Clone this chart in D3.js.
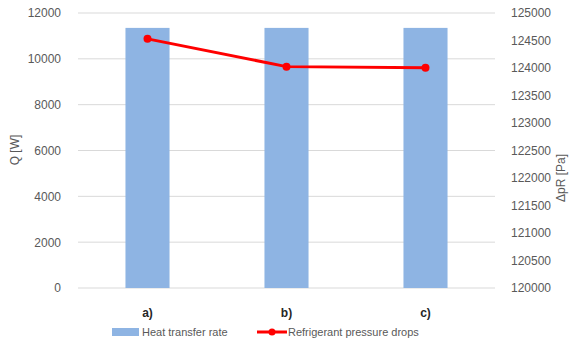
<!DOCTYPE html>
<html><head><meta charset="utf-8">
<script src="https://cdn.jsdelivr.net/npm/d3@7"></script>
<style>body{margin:0;background:#fff;} svg{display:block;font-family:"Liberation Sans",Arial,sans-serif;}</style>
</head><body>
<svg id="c" width="569" height="348"></svg>
<script>
const categories = ["a)", "b)", "c)"];
const heatTransfer = [11350, 11350, 11350];
const pressureDrops = [124530, 124025, 124005];
const leftTicks = [0, 2000, 4000, 6000, 8000, 10000, 12000];
const rightTicks = [120000, 120500, 121000, 121500, 122000, 122500, 123000, 123500, 124000, 124500, 125000];

const svg = d3.select("#c");
const L = 78, R = 495, T = 13, B = 288;
const x = d3.scaleBand().domain(categories).range([L, R]).paddingInner(0.683).paddingOuter(0.3415);
const y = d3.scaleLinear().domain([0, 12000]).range([B, T]);
const y2 = d3.scaleLinear().domain([120000, 125000]).range([B, T]);

// gridlines
svg.append("g").selectAll("line").data(leftTicks).join("line")
  .attr("x1", L).attr("x2", R).attr("y1", d => y(d)).attr("y2", d => y(d))
  .attr("stroke", "#d9d9d9").attr("stroke-width", 1);

// left axis
const ga = svg.append("g").attr("transform", `translate(${L - 14},0)`)
  .call(d3.axisLeft(y).tickValues(leftTicks).tickSize(0).tickFormat(d3.format("d")));
ga.select(".domain").remove();
ga.selectAll("text").attr("fill", "#595959").attr("font-size", 12).attr("font-family", "Liberation Sans, Arial");

// right axis
const gb = svg.append("g").attr("transform", `translate(${R + 13},0)`)
  .call(d3.axisRight(y2).tickValues(rightTicks).tickSize(0).tickFormat(d3.format("d")));
gb.select(".domain").remove();
gb.selectAll("text").attr("fill", "#595959").attr("font-size", 12).attr("font-family", "Liberation Sans, Arial");

// bars
svg.append("g").selectAll("rect").data(heatTransfer).join("rect")
  .attr("x", (d, i) => x(categories[i])).attr("width", x.bandwidth())
  .attr("y", d => y(d)).attr("height", d => y(0) - y(d))
  .attr("fill", "#8eb4e3");

// line
const pts = pressureDrops.map((d, i) => [x(categories[i]) + x.bandwidth() / 2, y2(d)]);
svg.append("path").attr("d", d3.line()(pts)).attr("fill", "none").attr("stroke", "#ff0000").attr("stroke-width", 3);
svg.append("g").selectAll("circle").data(pts).join("circle")
  .attr("cx", d => d[0]).attr("cy", d => d[1]).attr("r", 4).attr("fill", "#ff0000");

// category labels
svg.append("g").selectAll("text").data(categories).join("text")
  .attr("x", d => x(d) + x.bandwidth() / 2).attr("y", 317)
  .attr("text-anchor", "middle").attr("font-weight", "bold").attr("font-size", 12).attr("fill", "#262626")
  .text(d => d);

// axis titles
svg.append("text").attr("transform", "translate(19,150) rotate(-90)").attr("text-anchor", "middle")
  .attr("font-size", 12).attr("fill", "#595959").text("Q [W]");
svg.append("text").attr("transform", "translate(565,178) rotate(-90)").attr("text-anchor", "middle")
  .attr("font-size", 12).attr("fill", "#595959").text("ΔpR [Pa]");

// legend
const lg = svg.append("g");
lg.append("rect").attr("x", 112).attr("y", 328).attr("width", 27).attr("height", 8).attr("fill", "#8eb4e3");
lg.append("text").attr("x", 142).attr("y", 336).attr("font-size", 11).attr("fill", "#595959").text("Heat transfer rate");
lg.append("line").attr("x1", 257).attr("x2", 287).attr("y1", 332).attr("y2", 332).attr("stroke", "#ff0000").attr("stroke-width", 3);
lg.append("circle").attr("cx", 272).attr("cy", 332).attr("r", 3.5).attr("fill", "#ff0000");
lg.append("text").attr("x", 288).attr("y", 336).attr("font-size", 11).attr("fill", "#595959").text("Refrigerant pressure drops");
</script>
</body></html>
